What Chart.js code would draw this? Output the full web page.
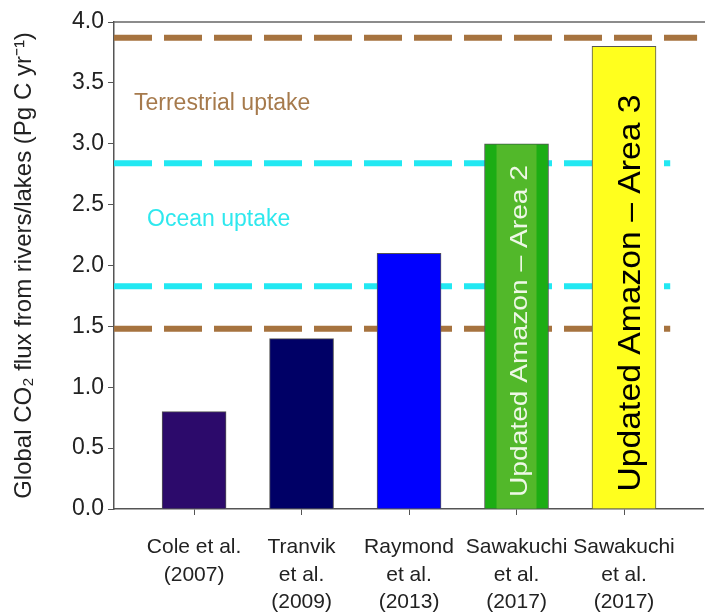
<!DOCTYPE html>
<html>
<head>
<meta charset="utf-8">
<script src="https://cdn.jsdelivr.net/npm/chart.js@4.4.1/dist/chart.umd.min.js"></script>
<style>
  html, body { margin: 0; padding: 0; background: #fff; }
  #caixa { width: 711px; height: 614px; }
</style>
</head>
<body>
<div id="caixa"><canvas id="graficoFluxo"></canvas></div>
<script>
// dados
const estudos = [
  ["Cole et al.", "(2007)"],
  ["Tranvik", "et al.", "(2009)"],
  ["Raymond", "et al.", "(2013)"],
  ["Sawakuchi", "et al.", "(2017)"],
  ["Sawakuchi", "et al.", "(2017)"]
];
const posicoes = [1, 2, 3, 4, 5];
const fluxo = [0.8, 1.4, 2.1, 3.0, 3.8];
const coresBarras = ["#2c0a6b", "#000066", "#0000ff", "#1cad14", "#ffff1e"];
const textosBarras = ["", "", "", "Updated Amazon \u2013 Area 2", "Updated Amazon \u2013 Area 3"];
const absorcaoTerrestre = [1.48, 3.87];
const absorcaoOceano = [1.83, 2.84];

const marrom = "#a6733f";
const ciano = "#22e8f2";
const fonte = "'Liberation Sans', Arial, sans-serif";

const xMin = 0.255, xMax = 5.735;

function linha(valor, fim, cor) {
  return {
    type: "line",
    data: [{ x: xMin, y: valor }, { x: fim, y: valor }],
    borderColor: cor,
    borderWidth: 6,
    borderDash: [38, 12],
    pointRadius: 0,
    order: 10
  };
}

const linhas = [
  linha(absorcaoTerrestre[1], 5.68, marrom),
  linha(absorcaoTerrestre[0], 5.43, marrom),
  linha(absorcaoOceano[1], 5.43, ciano),
  linha(absorcaoOceano[0], 5.43, ciano)
];

// faixa clara, textos e borda de cima
const extras = {
  id: "extras",
  afterDatasetsDraw(chart) {
    const ctx = chart.ctx;
    const area = chart.chartArea;
    const barras = chart.getDatasetMeta(0).data;

    // faixa mais clara na barra verde
    const verde = barras[3];
    ctx.save();
    ctx.fillStyle = "#52b82a";
    ctx.fillRect(verde.x - 20, verde.y + 1, 40, verde.base - verde.y - 1);
    ctx.restore();

    // textos verticais dentro das barras
    const estilos = [null, null, null,
      { cor: "#eef8e6", tam: 24, comp: 332, dx: 10, cy: 331 },
      { cor: "#000000", tam: 32, comp: 397, dx: 16, cy: 293 }];
    estilos.forEach((e, i) => {
      if (!e) return;
      const b = barras[i];
      ctx.save();
      ctx.font = e.tam + "px " + fonte;
      const w = ctx.measureText(textosBarras[i]).width;
      ctx.translate(b.x + e.dx, e.cy);
      ctx.rotate(-Math.PI / 2);
      ctx.scale(e.comp / w, 1);
      ctx.fillStyle = e.cor;
      ctx.textAlign = "center";
      ctx.textBaseline = "alphabetic";
      ctx.fillText(textosBarras[i], 0, 0);
      ctx.restore();
    });

    // rotulos das linhas
    ctx.save();
    ctx.font = "23px " + fonte;
    ctx.textBaseline = "alphabetic";
    ctx.fillStyle = "#a67a4c";
    ctx.fillText("Terrestrial uptake", 134, 110);
    ctx.fillStyle = "#2ee8ee";
    ctx.fillText("Ocean uptake", 147, 226);
    ctx.restore();

    // linha de cima
    ctx.save();
    ctx.strokeStyle = "#666";
    ctx.lineWidth = 1.5;
    ctx.beginPath();
    ctx.moveTo(area.left, area.top);
    ctx.lineTo(area.right + 2, area.top);
    ctx.stroke();
    ctx.restore();
  }
};

new Chart(document.getElementById("graficoFluxo"), {
  type: "bar",
  data: {
    datasets: [{
      data: posicoes.map((p, i) => ({ x: p, y: fluxo[i] })),
      backgroundColor: coresBarras,
      borderColor: "#555",
      borderWidth: 1,
      barThickness: 64,
      grouped: false,
      order: 1
    }].concat(linhas)
  },
  options: {
    responsive: true,
    maintainAspectRatio: false,
    animation: false,
    layout: { padding: { top: 22, right: 8, left: 0, bottom: 0 } },
    plugins: { legend: { display: false }, tooltip: { enabled: false } },
    scales: {
      x: {
        type: "linear",
        offset: false,
        min: xMin,
        max: xMax,
        afterBuildTicks: (s) => { s.ticks = posicoes.map(v => ({ value: v })); },
        afterFit: (s) => { s.height = 105; },
        grid: { drawOnChartArea: false, drawTicks: true, tickLength: 6, color: "#555", offset: false },
        border: { display: true, color: "#555", width: 1.5 },
        ticks: {
          callback: (v, i) => estudos[i],
          font: { family: fonte, size: 21, lineHeight: 1.3 },
          color: "#222",
          padding: 19,
          maxRotation: 0,
          autoSkip: false
        }
      },
      y: {
        min: 0,
        max: 4,
        afterFit: (s) => { s.width = 114; },
        grid: { drawOnChartArea: false, drawTicks: true, tickLength: 6, color: "#555" },
        border: { display: true, color: "#555", width: 1.5 },
        ticks: {
          stepSize: 0.25,
          callback: (v) => (Math.round(v * 100) % 50 === 0 ? v.toFixed(1) : ""),
          font: { family: fonte, size: 23 },
          color: "#222",
          padding: 4
        },
        title: {
          display: true,
          text: "Global CO\u2082 flux from rivers/lakes (Pg C yr\u207B\u00B9)",
          font: { family: fonte, size: 24 },
          color: "#222",
          padding: { top: 10, bottom: 0 }
        }
      }
    }
  },
  plugins: [extras]
});
</script>
</body>
</html>
